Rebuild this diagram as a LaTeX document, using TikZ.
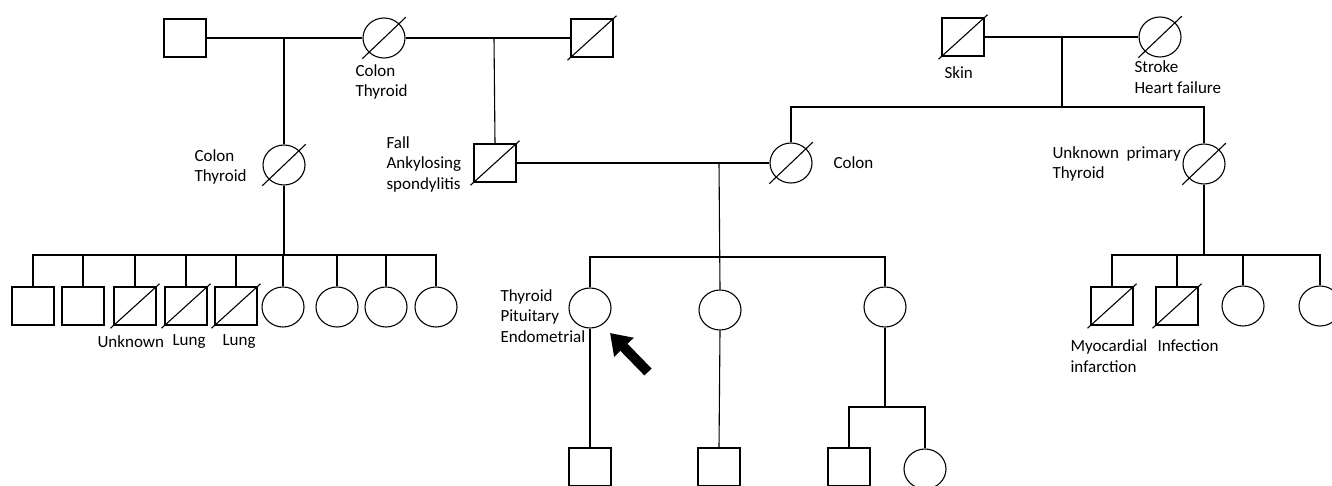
\documentclass[tikz,border=0pt]{standalone}
\usepackage{fontspec}
\setmainfont{Carlito}
\usetikzlibrary{shapes.geometric,arrows.meta}
\tikzset{
 male/.style={draw,rectangle,minimum width=42pt,minimum height=38pt,inner sep=0pt},
 female/.style={draw,ellipse,minimum width=42pt,minimum height=40pt,inner sep=0pt},
 gone/.style={shorten <=-#1,shorten >=-#1}, gone/.default=4pt,
 lbl/.style={anchor=west,align=left,inner sep=0pt,font={\fontsize{17}{20.5}\selectfont}}
}
\begin{document}
\begin{tikzpicture}[x=1pt,y=-1pt,line width=1.1pt]
 \useasboundingbox (0,0) rectangle (1332,486); \clip (0,0) rectangle (1332,486);
 \node[male] (gp1) at (185,38) {}; \node[female] (gm1) at (384,38) {}; \node[male] (gp2) at (592,38) {};
 \node[male] (gp3) at (963,37) {}; \node[female] (gm3) at (1160,37) {};
 \node[female] (au1) at (284,165) {}; \node[male] (fa) at (495,163) {}; \node[female] (mo) at (791,163) {}; \node[female] (au2) at (1204,164) {};
 \node[male] (c1) at (33,306) {}; \node[male] (c2) at (83,306) {}; \node[male] (c3) at (135,306) {}; \node[male] (c4) at (186,306) {}; \node[male] (c5) at (236,306) {};
 \node[female] (c6) at (283,307) {}; \node[female] (c7) at (337,307) {}; \node[female] (c8) at (386,307) {}; \node[female] (c9) at (436,307) {};
 \node[female] (pro) at (590,308) {}; \node[female] (sib2) at (720,310) {}; \node[female] (sib3) at (885,307) {};
 \node[male] (r1) at (1112,306) {}; \node[male] (r2) at (1177,306) {}; \node[female] (r3) at (1243,306) {}; \node[female] (r4) at (1320,306) {};
 \node[male] (n1) at (590,467) {}; \node[male] (n2) at (719,467) {}; \node[male] (n3) at (849,467) {}; \node[female] (n4) at (925,469) {};
 \foreach \d in {gp2,gp3,fa,c3,c4,c5,r1,r2} \draw[gone] (\d.south west) -- (\d.north east);
 \foreach \d in {gm1,gm3,au1,mo,au2} \draw[gone=9pt] (\d.south west) -- (\d.north east);
 \coordinate (m1) at (284,38); \coordinate (m2) at (494,38); \coordinate (m3) at (1062,37); \coordinate (s3) at (1062,107);
 \coordinate (m4) at (719,163); \coordinate (s1) at (284,255); \coordinate (s4) at (719,257); \coordinate (s5) at (1204,255); \coordinate (s6) at (885,407);
 \draw (gp1.east) -- (gm1.west); \draw (gm1.east) -- (gp2.west); \draw (gp3.east) -- (gm3.west);
 \draw (m1) -- (au1.north); \draw (m2) -- (fa.north); \draw (m3) -- (s3); \draw (mo.north) |- (s3) -| (au2.north);
 \draw (fa.east) -- (mo.west); \draw (m4) -- (sib2.north); \draw (pro.north) |- (s4) -| (sib3.north);
 \draw (au1.south) -- (s1); \draw (c1.north) |- (s1) -| (c9.north);
 \foreach \k in {c2,c3,c4,c5,c6,c7,c8} \draw (\k.north) -- (\k.north |- s1);
 \draw (au2.south) -- (s5); \draw (r1.north) |- (s5) -| (r4.north); \draw (r2.north) -- (r2.north |- s5); \draw (r3.north) -- (r3.north |- s5);
 \draw (pro.south) -- (n1.north); \draw (sib2.south) -- (n2.north); \draw (sib3.south) -- (s6); \draw (n3.north) |- (s6) -| (n4.north);
 \coordinate (at) at (648,372); \coordinate (ah) at (610,333);
 \draw[line width=10pt,-{Triangle[length=20pt,width=26pt]}] (at) -- (ah);
 \node[lbl] (tgm1) at (355,82) {Colon\\Thyroid}; \node[lbl] (tgp3) at (944,73) {Skin}; \node[lbl] (tgm3) at (1134,77) {Stroke\\Heart failure};
 \node[lbl] (tau1) at (194,167) {Colon\\Thyroid}; \node[lbl] (tfa) at (386,164) {Fall\\Ankylosing\\spondylitis};
 \node[lbl] (tmo) at (833,163) {Colon}; \node[lbl] (tau2) at (1052,164) {Unknown\ \ primary\\Thyroid};
 \node[lbl] (tc3) at (97,342) {Unknown}; \node[lbl] (tc4) at (172,342) {Lung}; \node[lbl] (tc5) at (222,342) {Lung};
 \node[lbl] (tpro) at (500,316) {Thyroid\\Pituitary\\Endometrial};
 \node[lbl] (tr1) at (1070,356) {Myocardial\\infarction}; \node[lbl] (tr2) at (1157,346) {Infection};
\end{tikzpicture}
\end{document}
